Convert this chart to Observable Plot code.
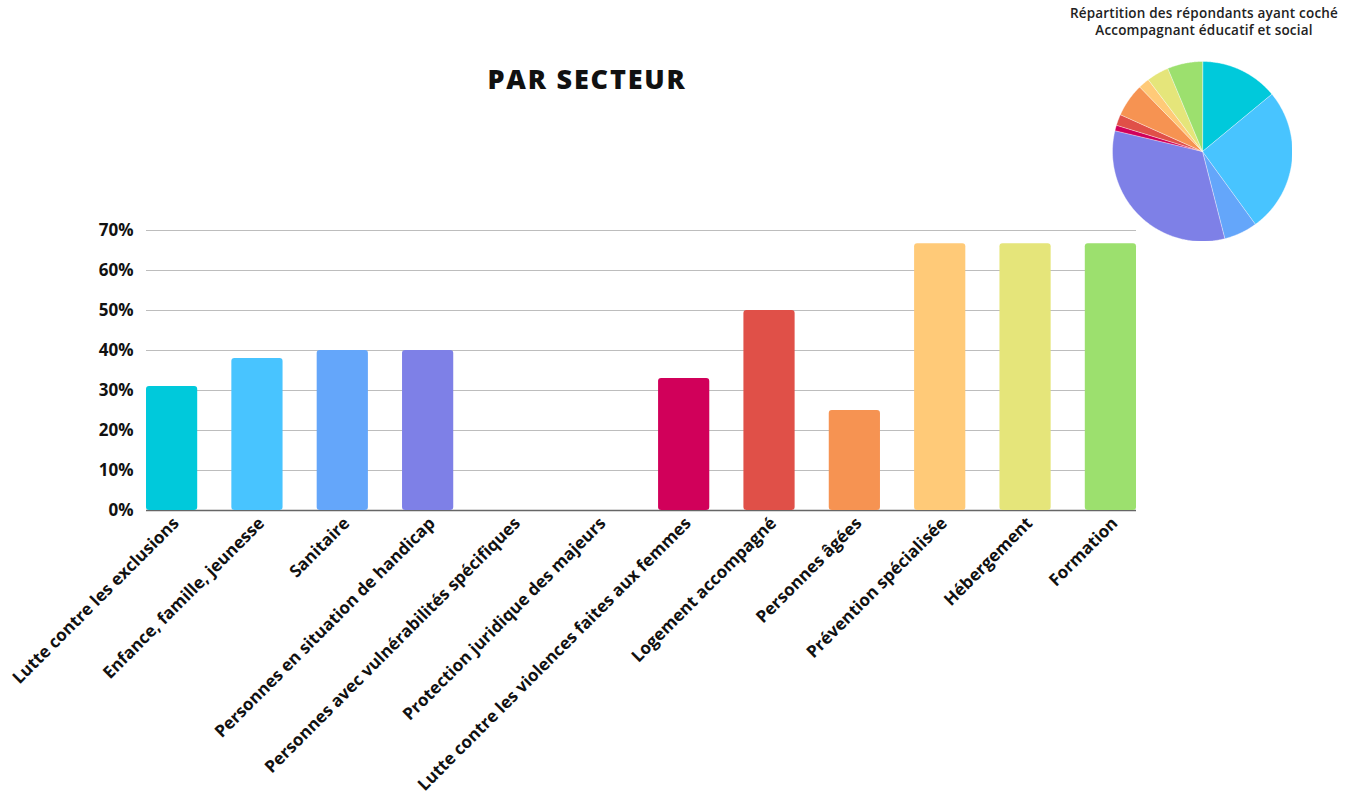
<!DOCTYPE html>
<html><head><meta charset="utf-8">
<script src="https://cdn.jsdelivr.net/npm/d3@7"></script>
<script src="https://cdn.jsdelivr.net/npm/@observablehq/plot@0.6"></script>
<style>
body{margin:0;background:#fff;}
#wrap{position:relative;width:1354px;height:804px;overflow:hidden;font-family:"Open Sans",sans-serif;}
#title{position:absolute;left:0;width:1174px;top:61px;text-align:center;font-size:27px;font-weight:800;color:#111;letter-spacing:1.8px;line-height:36px;}
#pieTitle{position:absolute;left:1054px;width:300px;top:5px;text-align:center;font-size:13.5px;font-weight:600;color:#222;line-height:17px;letter-spacing:0.2px;}
#chart{position:absolute;left:0;top:0;}
#pie{position:absolute;left:1112px;top:61px;}
</style></head>
<body>
<div id="wrap">
  <div id="chart"></div>
  <div id="title">PAR SECTEUR</div>
  <div id="pieTitle">Répartition des répondants ayant coché<br>Accompagnant éducatif et social</div>
  <div id="pie"></div>
</div>
<script>
const categories = ["Lutte contre les exclusions","Enfance, famille, jeunesse","Sanitaire","Personnes en situation de handicap","Personnes avec vulnérabilités spécifiques","Protection juridique des majeurs","Lutte contre les violences faites aux femmes","Logement accompagné","Personnes âgées","Prévention spécialisée","Hébergement","Formation"];
const values = [31, 38, 40, 40, 0, 0, 33, 50, 25, 66.7, 66.7, 66.7];
const colors = ["#00C9DB","#48C4FF","#64A6FA","#7E80E7","#9A6FD8","#B4458F","#D1005A","#E05048","#F69352","#FFCA78","#E5E57A","#9CE06E"];
const pieValues = [14, 26, 6, 32.7, 0, 0, 1, 2, 6, 2, 4, 6.3];
const yTicks = [0, 10, 20, 30, 40, 50, 60, 70];

const data = categories.map((c, i) => ({cat: c, value: values[i], color: colors[i]}));

const chart = Plot.plot({
  width: 1354, height: 804,
  marginLeft: 146, marginRight: 218, marginTop: 230, marginBottom: 294,
  style: {fontFamily: "'Open Sans', sans-serif", fontSize: "17px", fontWeight: 700, color: "#111", background: "transparent"},
  x: {domain: categories, paddingInner: 0.4, paddingOuter: 0, round: false, label: null},
  y: {domain: [0, 70], label: null},
  color: {type: "identity"},
  marks: [
    Plot.gridY(yTicks, {stroke: "#bdbdbd", strokeOpacity: 1, strokeWidth: 1}),
    Plot.ruleY([0], {stroke: "#666", strokeWidth: 1.5}),
    Plot.barY(data, {x: "cat", y: "value", fill: "color", rx: 3}),
    Plot.axisY(yTicks, {tickSize: 0, tickPadding: 13, tickFormat: d => d + "%", fontSize: 17, fontWeight: 700}),
    Plot.axisX({tickSize: 0, tickRotate: -45, tickPadding: 10, fontSize: 17, fontWeight: 700, dx: 4})
  ]
});
document.getElementById("chart").appendChild(chart);

// Pie
const arcs = d3.pie().sort(null).value(d => d)(pieValues);
const pts = [];
arcs.forEach((a, i) => {
  if (a.endAngle - a.startAngle <= 0) return;
  pts.push({k: i, x: 0, y: 0, color: colors[i]});
  const n = Math.max(2, Math.ceil((a.endAngle - a.startAngle) / 0.01));
  for (let j = 0; j <= n; j++) {
    const t = a.startAngle + (a.endAngle - a.startAngle) * j / n;
    pts.push({k: i, x: Math.sin(t), y: Math.cos(t), color: colors[i]});
  }
});
const pie = Plot.plot({
  width: 180, height: 180, margin: 0,
  x: {domain: [-1, 1], axis: null},
  y: {domain: [-1, 1], axis: null},
  color: {type: "identity"},
  style: {background: "transparent"},
  marks: [
    Plot.line(pts, {x: "x", y: "y", z: "k", fill: "color", stroke: "white", strokeWidth: 0.4, curve: "linear-closed"})
  ]
});
document.getElementById("pie").appendChild(pie);
</script>
</body></html>
